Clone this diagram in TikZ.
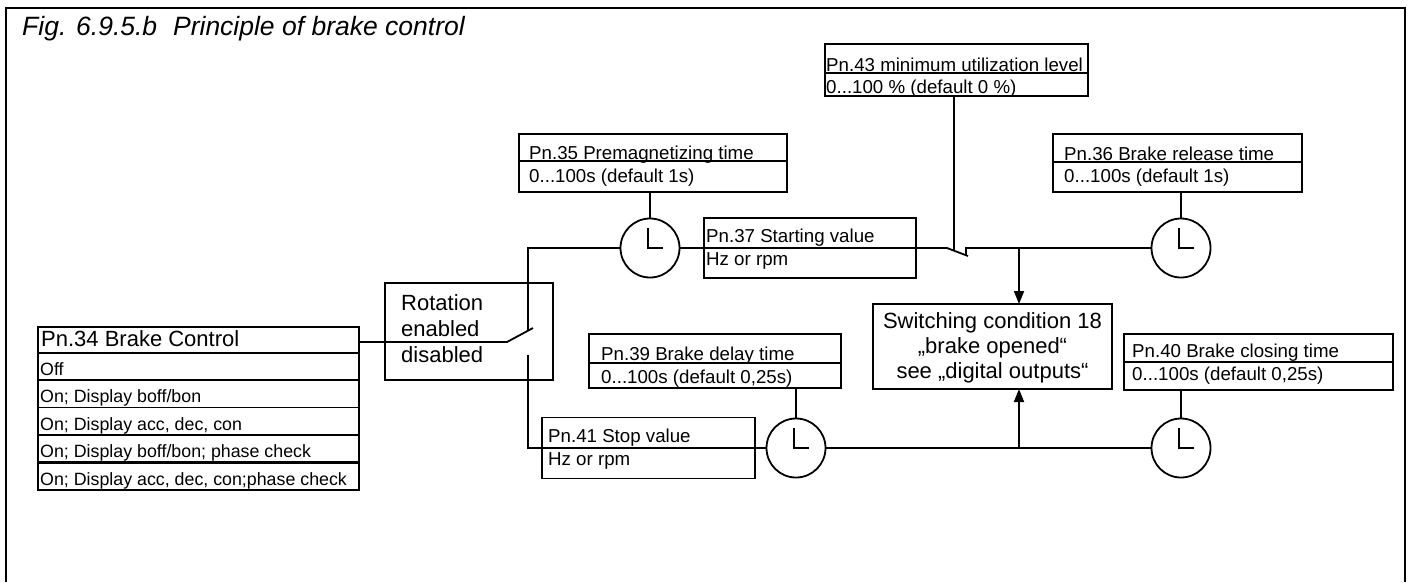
\documentclass[tikz,border=0pt]{standalone}
\usepackage{fontspec}
\setmainfont{Liberation Sans}
\usetikzlibrary{arrows.meta}
\begin{document}
\begin{tikzpicture}[x=1pt,y=-1pt,
  box/.style={draw, line width=1.8pt, rectangle, inner sep=0pt, outer sep=0pt},
  clk/.style={draw, circle, line width=1.8pt, minimum size=59pt, inner sep=0pt, outer sep=0pt},
  wire/.style={line width=1.8pt},
  thickwire/.style={line width=2.8pt},
  arr/.style={line width=1.8pt, -{Triangle[length=13pt,width=10pt]}},
  ptxt/.style={anchor=base west, inner sep=0pt, font=\fontsize{18.7}{21}\selectfont},
  rtxt/.style={anchor=base west, inner sep=0pt, font=\fontsize{17.8}{20}\selectfont},
  btxt/.style={anchor=base west, inner sep=0pt, font=\fontsize{22}{26}\selectfont},
  ctxt/.style={anchor=base, inner sep=0pt, font=\fontsize{22}{26}\selectfont}
]
\useasboundingbox (0,0) rectangle (1413,582);
% frame
\draw[line width=2pt] (6,582) -- (6,8) -- (1405,8) -- (1405,582);
\node[anchor=base west, inner sep=0pt, font=\fontsize{26.5}{30}\selectfont\itshape] (title) at (22,35) {Fig. 6.9.5.b\hspace{0.6em}Principle of brake control};

% boxes
\node[box, minimum width=263pt, minimum height=52pt] (p43) at (956.5,70) {};
\node[box, minimum width=268pt, minimum height=58pt] (p35) at (653,163) {};
\node[box, minimum width=249pt, minimum height=58pt] (p36) at (1177.5,163) {};
\node[box, minimum width=212pt, minimum height=60pt] (p37) at (810,248) {};
\node[box, minimum width=168pt, minimum height=97pt] (rot) at (469,331.5) {};
\node[box, minimum width=321pt, minimum height=163pt] (p34) at (198.5,408.5) {};
\node[box, minimum width=239pt, minimum height=85pt] (sw) at (992.5,346.5) {};
\node[box, minimum width=252pt, minimum height=54pt] (p39) at (715,361) {};
\node[box, minimum width=269pt, minimum height=56pt] (p40) at (1258.5,362) {};
\node[box, minimum width=213pt, minimum height=61pt] (p41) at (648.5,448) {};

% clocks
\node[clk] (c1) at (650,248) {};
\node[clk] (c2) at (1181,248) {};
\node[clk] (c3) at (796,448) {};
\node[clk] (c4) at (1181,448) {};
\foreach \c in {c1,c2,c3,c4}{
  \draw[wire] (\c) ++(-2,-20) -- ++(0,20) -- ++(15,0);
}

% dividers
\draw[wire] (p43.west |- 0,73) -- (p43.east |- 0,73);
\draw[wire] (p35.west |- 0,161) -- (p35.east |- 0,161);
\draw[wire] (p36.west |- 0,162) -- (p36.east |- 0,162);
\draw[wire] (p39.west |- 0,363) -- (p39.east |- 0,363);
\draw[wire] (p40.west |- 0,362) -- (p40.east |- 0,362);
\draw[thickwire] (p34.west |- 0,353) -- (p34.east |- 0,353);
\draw[wire] (p34.west |- 0,380) -- (p34.east |- 0,380);
\draw[wire] (p34.west |- 0,407.5) -- (p34.east |- 0,407.5);
\draw[wire] (p34.west |- 0,435) -- (p34.east |- 0,435);
\draw[thickwire] (p34.west |- 0,462.5) -- (p34.east |- 0,462.5);

% texts
\node[ptxt] (t43a) at (826,71) {Pn.43 minimum utilization level};
\node[ptxt] (t43b) at (826,93) {0...100 \% (default 0 \%)};
\node[ptxt] (t35a) at (529,159) {Pn.35 Premagnetizing time};
\node[ptxt] (t35b) at (529,182) {0...100s (default 1s)};
\node[ptxt] (t36a) at (1064,160) {Pn.36 Brake release time};
\node[ptxt] (t36b) at (1064,182) {0...100s (default 1s)};
\node[ptxt] (t37a) at (706,242) {Pn.37 Starting value};
\node[ptxt] (t37b) at (706,265) {Hz or rpm};
\node[ptxt] (t41a) at (548,442) {Pn.41 Stop value};
\node[ptxt] (t41b) at (548,465) {Hz or rpm};
\node[ptxt] (t39a) at (601,360) {Pn.39 Brake delay time};
\node[ptxt] (t39b) at (601,383) {0...100s (default 0,25s)};
\node[ptxt] (t40a) at (1132,357) {Pn.40 Brake closing time};
\node[ptxt] (t40b) at (1132,380) {0...100s (default 0,25s)};
\node[btxt] (tr1) at (401,310) {Rotation};
\node[btxt] (tr2) at (401,336) {enabled};
\node[btxt] (tr3) at (401,362) {disabled};
\node[ctxt] (ts1) at (992.5,328) {Switching condition 18};
\node[ctxt] (ts2) at (992.5,353) {„brake opened“};
\node[ctxt] (ts3) at (992.5,378) {see „digital outputs“};
\node[btxt] (t34) at (41,346) {Pn.34 Brake Control};
\node[rtxt] (t34a) at (40,375) {Off};
\node[rtxt] (t34b) at (40,402) {On; Display boff/bon};
\node[rtxt] (t34c) at (40,430) {On; Display acc, dec, con};
\node[rtxt] (t34d) at (40,457) {On; Display boff/bon; phase check};
\node[rtxt] (t34e) at (40,485) {On; Display acc, dec, con;phase check};

% clock to parameter box
\draw[wire] (c1.north) -- (c1.north |- p35.south);
\draw[wire] (c2.north) -- (c2.north |- p36.south);
\draw[wire] (c3.north) -- (c3.north |- p39.south);
\draw[wire] (c4.north) -- (c4.north |- p40.south);

% rotation switch
\coordinate (s1a) at (507,342);
\coordinate (s1b) at (533,328);
\coordinate (s1c) at (528,331);
\coordinate (s1d) at (528,355);
\draw[wire] (p34.east |- s1a) -- (s1a) -- (s1b);
\draw[wire] (c1.west) -- (c1.west -| s1c) -- (s1c);
\draw[wire] (s1d) -- (s1d |- p41.west) -- (p41.west) -- (p41.east) -- (c3.west);

% upper row with utilization switch
\coordinate (s2a) at (947,248);
\coordinate (s2b) at (968,256);
\coordinate (s2c) at (966,248);
\coordinate (s2t) at (966,255);
\coordinate (s2d) at (954,250);
\draw[wire] (c1.east) -- (p37.west) -- (p37.east) -- (s2a) -- (s2b);
\draw[wire] (s2t) -- (s2c) -- (c2.west);
\draw[wire] (s2d |- p43.south) -- (s2d);
\coordinate (j1) at (1019,248);
\draw[arr] (j1) -- (j1 |- sw.north);

% lower row
\draw[wire] (c3.east) -- (c4.west);
\coordinate (j2) at (1019,448);
\draw[arr] (j2) -- (j2 |- sw.south);
\end{tikzpicture}
\end{document}
